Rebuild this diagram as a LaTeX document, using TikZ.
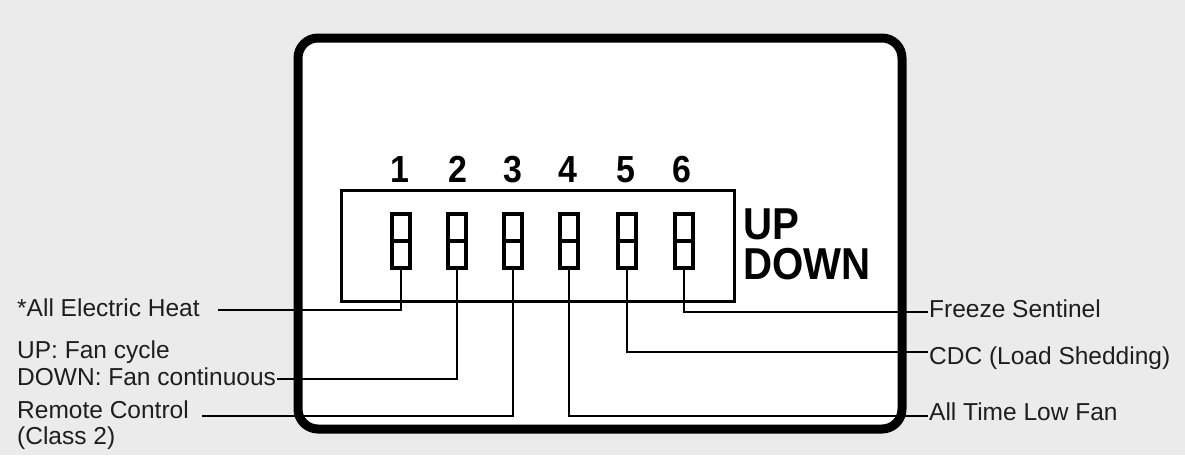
\documentclass[tikz,border=0pt]{standalone}
\usepackage{fontspec}
\setmainfont{Liberation Sans}
\newfontfamily\headfont{Liberation Sans}[FakeStretch=0.9]
\definecolor{bg}{RGB}{235,235,235}
\definecolor{ink}{RGB}{30,30,30}
\begin{document}
\begin{tikzpicture}[x=1pt,y=-1pt,
  lbl/.style={anchor=base west, inner sep=0pt, text=ink, font=\fontsize{24.5}{26}\selectfont},
  num/.style={anchor=base, inner sep=0pt, font=\headfont\bfseries\fontsize{37.7}{40}\selectfont},
  ud/.style={anchor=south west, inner sep=0pt, align=left, font=\headfont\bfseries\fontsize{44.7}{40}\selectfont},
  sw/.style={draw, line width=4pt, minimum width=18pt, minimum height=54pt, inner sep=0pt},
  wire/.style={line width=2pt}]
\fill[bg] (0,0) rectangle (1185,455);
\useasboundingbox (0,0) rectangle (1185,455);
% panel and DIP housing
\node[draw, line width=9pt, rounded corners=20pt, fill=white, minimum width=604pt, minimum height=391pt, inner sep=0pt] (panel) at (600,233.5) {};
\node[draw, line width=3pt, minimum width=393pt, minimum height=111pt, inner sep=0pt] (dip) at (537.5,245.5) {};
% switches
\foreach \i/\x in {1/401,2/457,3/513,4/569,5/627,6/684}{
  \node[sw] (s\i) at (\x,241) {};
  \draw[line width=4pt] (s\i.west) -- (s\i.east);
}
% numbers
\foreach \i/\x in {1/400,2/458,3/513,4/568,5/626,6/682}{
  \node[num] (n\i) at (\x,182) {\i};
}
\node[ud] (updown) at (743,280) {UP\\DOWN};
% labels
\node[lbl] (l1) at (17,316) {*All Electric Heat};
\node[lbl] (l2a) at (17,358) {UP: Fan cycle};
\node[lbl] (l2) at (17,385) {DOWN: Fan continuous};
\node[lbl] (l3) at (17,418) {Remote Control};
\node[lbl] (l3b) at (17,444) {(Class 2)};
\node[lbl] (l6) at (929,317) {Freeze Sentinel};
\node[lbl] (l5) at (929,364) {CDC (Load Shedding)};
\node[lbl] (l4) at (929,420) {All Time Low Fan};
% line ends
\coordinate (c1) at (218,310);
\coordinate (c2) at (277,379);
\coordinate (c3) at (202,416);
\coordinate (c4) at (928,416);
\coordinate (c5) at (928,352);
\coordinate (c6) at (928,312);
\foreach \i in {1,...,6}{
  \draw[wire] (s\i.south) |- (c\i);
}
\end{tikzpicture}
\end{document}
